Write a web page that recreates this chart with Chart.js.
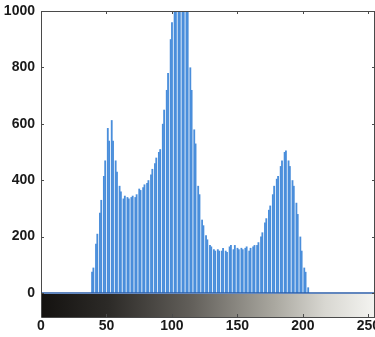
<!DOCTYPE html>
<html>
<head>
<meta charset="utf-8">
<script src="https://cdn.jsdelivr.net/npm/chart.js@4.4.0/dist/chart.umd.min.js"></script>
<style>
  html, body { margin: 0; padding: 0; background: #fff; }
  #wrap { width: 375px; height: 337px; }
</style>
</head>
<body>
<div id="wrap"><canvas id="hist" width="375" height="337"></canvas></div>
<script>
// pixel counts per gray level 0..255
const counts = [
  0,0,0,0,0,0,0,0,0,0,0,0,0,0,0,0,
  0,0,0,0,0,0,0,0,0,0,0,0,0,0,0,0,
  0,0,0,0,0,0,0,75,90,0,175,210,0,285,330,0,
  415,470,0,585,540,0,613,540,0,470,430,0,380,360,0,335,
  345,0,340,335,0,340,345,0,340,350,0,370,365,0,375,385,
  0,390,400,0,420,440,0,460,480,0,500,510,0,600,650,0,
  720,780,0,900,960,0,1100,1150,0,1250,1300,0,1200,1150,0,1050,
  1010,0,800,720,0,580,530,0,380,350,0,260,240,0,205,190,
  0,170,165,0,155,150,0,155,150,0,150,160,0,150,145,0,
  165,170,0,155,170,0,160,155,0,160,155,0,160,165,0,150,
  160,0,165,170,0,170,180,0,200,215,0,250,265,0,295,310,
  0,350,380,0,405,415,0,450,470,0,500,505,0,470,450,0,
  400,380,0,320,280,0,200,150,0,90,75,0,20,0,0,0,
  0,0,0,0,0,0,0,0,0,0,0,0,0,0,0,0,
  0,0,0,0,0,0,0,0,0,0,0,0,0,0,0,0,
  0,0,0,0,0,0,0,0,0,0,0,0,0,0,0,0
];
const xTicks = [0, 50, 100, 150, 200, 250];
const yTicks = [0, 200, 400, 600, 800, 1000];

const barColor = '#4a8edb';
const axisColor = '#4a4a4a';

// frame, blue baseline and the gray colorbar under the plot
const framePlugin = {
  id: 'framePlugin',
  afterDatasetsDraw(chart) {
    const { ctx, chartArea: a, scales: { x, y } } = chart;
    ctx.save();

    // baseline of the stems
    const y0 = Math.round(y.getPixelForValue(0));
    ctx.strokeStyle = '#2d5ea8';
    ctx.lineWidth = 1.5;
    ctx.beginPath();
    ctx.moveTo(a.left, y0);
    ctx.lineTo(a.right, y0);
    ctx.stroke();

    // axes box
    ctx.strokeStyle = axisColor;
    ctx.lineWidth = 1;
    ctx.beginPath();
    ctx.moveTo(a.left + 0.5, a.bottom);
    ctx.lineTo(a.left + 0.5, a.top + 0.5);
    ctx.lineTo(a.right - 0.5, a.top + 0.5);
    ctx.lineTo(a.right - 0.5, a.bottom);
    ctx.stroke();

    // small inward ticks
    ctx.beginPath();
    xTicks.forEach(v => {
      const px = Math.round(x.getPixelForValue(v)) + 0.5;
      ctx.moveTo(px, a.top);
      ctx.lineTo(px, a.top + 3);
    });
    yTicks.forEach(v => {
      const py = Math.round(y.getPixelForValue(v)) + 0.5;
      ctx.moveTo(a.left, py);
      ctx.lineTo(a.left + 3, py);
      ctx.moveTo(a.right, py);
      ctx.lineTo(a.right - 3, py);
    });
    ctx.stroke();

    // colorbar
    const cbTop = a.bottom + 1;
    const cbBot = a.bottom + 24;
    const g = ctx.createLinearGradient(x.getPixelForValue(0), 0, x.getPixelForValue(255), 0);
    g.addColorStop(0, '#141210');
    g.addColorStop(0.2, '#2c2a27');
    g.addColorStop(0.45, '#625f5a');
    g.addColorStop(0.7, '#aaa8a0');
    g.addColorStop(0.85, '#d8d7d1');
    g.addColorStop(1, '#f4f4f1');
    ctx.fillStyle = g;
    ctx.fillRect(a.left, cbTop, a.right - a.left, cbBot - cbTop);
    ctx.strokeStyle = axisColor;
    ctx.beginPath();
    ctx.moveTo(a.left + 0.5, cbTop);
    ctx.lineTo(a.left + 0.5, cbBot + 0.5);
    ctx.lineTo(a.right, cbBot + 0.5);
    ctx.moveTo(a.right - 0.5, cbTop);
    ctx.lineTo(a.right - 0.5, cbBot);
    xTicks.forEach(v => {
      const px = Math.round(x.getPixelForValue(v)) + 0.5;
      ctx.moveTo(px, cbBot);
      ctx.lineTo(px, cbBot - 3);
    });
    ctx.stroke();

    ctx.restore();
  }
};

new Chart(document.getElementById('hist'), {
  type: 'bar',
  data: {
    datasets: [{
      data: counts.map((c, i) => ({ x: i, y: c })),
      backgroundColor: barColor,
      borderWidth: 0,
      barPercentage: 1.4,
      categoryPercentage: 1
    }]
  },
  options: {
    responsive: false,
    animation: false,
    layout: { padding: { top: 11, right: 0, left: 0, bottom: 0 } },
    plugins: {
      legend: { display: false },
      tooltip: { enabled: false }
    },
    scales: {
      x: {
        type: 'linear',
        offset: false,
        min: 0,
        max: 255,
        grid: { display: false, drawTicks: false, offset: false },
        border: { display: false },
        afterBuildTicks: s => { s.ticks = xTicks.map(v => ({ value: v })); },
        afterFit: s => { s.height = 44; s.paddingLeft = 0; s.paddingRight = 0; },
        ticks: {
          padding: 25,
          maxRotation: 0,
          color: '#1a1a1a',
          font: { family: 'Liberation Sans', size: 14, weight: 'bold' },
          callback: v => String(v)
        }
      },
      y: {
        min: 0,
        max: 1000,
        grid: { display: false, drawTicks: false },
        border: { display: false },
        afterBuildTicks: s => { s.ticks = yTicks.map(v => ({ value: v })); },
        afterFit: s => { s.width = 41; s.paddingTop = 0; s.paddingBottom = 0; },
        ticks: {
          padding: 6,
          color: '#1a1a1a',
          font: { family: 'Liberation Sans', size: 14, weight: 'bold' },
          callback: v => String(v)
        }
      }
    }
  },
  plugins: [framePlugin]
});
</script>
</body>
</html>
